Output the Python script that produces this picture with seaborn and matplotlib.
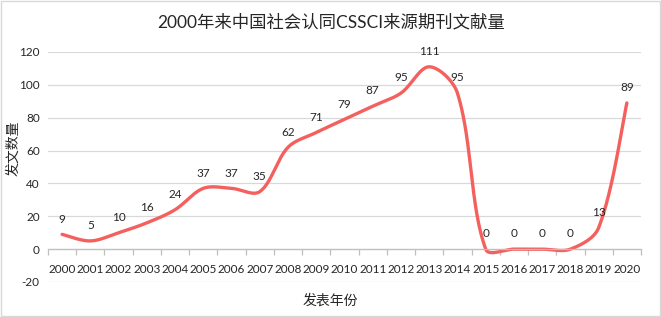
import numpy as np
import pandas as pd
import matplotlib.pyplot as plt
import seaborn as sns
from matplotlib.patches import Rectangle

# 数据
years = ['2000', '2001', '2002', '2003', '2004', '2005', '2006', '2007', '2008', '2009', '2010',
         '2011', '2012', '2013', '2014', '2015', '2016', '2017', '2018', '2019', '2020']
counts = [9, 5, 10, 16, 24, 37, 37, 35, 62, 71, 79, 87, 95, 111, 95, 0, 0, 0, 0, 13, 89]

title = '2000年来中国社会认同CSSCI来源期刊文献量'
xlabel = '发表年份'
ylabel = '发文数量'

sns.set_theme(style='white')
plt.rcParams['font.family'] = ['Lato', 'Noto Sans CJK SC', 'DejaVu Sans']
plt.rcParams['axes.unicode_minus'] = False

line_color = '#F4605E'
grid_color = '#D9D9D9'
text_color = '#262626'

# 像素比例（用于平滑时按屏幕距离缩放控制点）
px_x, px_y = 28.25, 1.64


# Excel 风格的平滑线（三次贝塞尔，按相邻段长度缩放控制点）
def smooth_curve(y, n=40, tension=1 / 6):
    y = np.asarray(y, dtype=float)
    x = np.arange(len(y), dtype=float)
    m = len(y)
    pts = np.column_stack([x, y])
    scale = np.array([px_x, px_y])

    def dist(a, b):
        return np.hypot(*((a - b) * scale))

    out_c, in_c = [], []
    for i in range(m):
        p0 = pts[max(i - 1, 0)]
        p1 = pts[i]
        p2 = pts[min(i + 1, m - 1)]
        d01, d12 = dist(p0, p1), dist(p1, p2)
        tot = d01 + d12
        v = (p2 - p0) * tension
        if 0 < i < m - 1 and tot > 0:
            out_c.append(p1 + v * 2 * d12 / tot)
            in_c.append(p1 - v * 2 * d01 / tot)
        else:
            out_c.append(p1 + v)
            in_c.append(p1 - v)

    xs, ys = [], []
    for i in range(m - 1):
        a, c1, c2, b = pts[i], out_c[i], in_c[i + 1], pts[i + 1]
        t = np.linspace(0, 1, n, endpoint=(i == m - 2))[:, None]
        bz = (1 - t) ** 3 * a + 3 * (1 - t) ** 2 * t * c1 + 3 * (1 - t) * t ** 2 * c2 + t ** 3 * b
        xs.append(bz[:, 0])
        ys.append(bz[:, 1])
    return np.concatenate(xs), np.concatenate(ys)


sx, sy = smooth_curve(counts)
df_smooth = pd.DataFrame({'x': sx, 'y': sy})

fig = plt.figure(figsize=(6.61, 3.17), dpi=100)
ax = fig.add_axes([48 / 661, 1 - 282 / 317, 593 / 661, 230 / 317])

sns.lineplot(data=df_smooth, x='x', y='y', ax=ax, color=line_color, linewidth=2.4, sort=False)

# 数据标签
for i, v in enumerate(counts):
    ax.annotate(str(v), (i, v), xytext=(0, 11), textcoords='offset points',
                ha='center', va='center', fontsize=8.5, color=text_color)

ax.set_xlim(-0.5, len(years) - 0.5)
ax.set_ylim(-20, 120)
ax.set_yticks(range(-20, 121, 20))
ax.yaxis.grid(True, color=grid_color, linewidth=0.9)
ax.set_axisbelow(True)
for s in ['top', 'right', 'left']:
    ax.spines[s].set_visible(False)
ax.spines['bottom'].set_position(('data', 0))
ax.spines['bottom'].set_color('#BFBFBF')
ax.spines['bottom'].set_linewidth(0.9)

ax.set_xticks(range(len(years)))
ax.set_xticklabels(years)
ax.set_xticks(np.arange(-0.5, len(years), 1), minor=True)
ax.tick_params(axis='x', which='major', length=0, pad=11, labelsize=8.5, colors=text_color)
ax.tick_params(axis='x', which='minor', length=4, width=0.9, color='#BFBFBF', bottom=True)
ax.tick_params(axis='y', length=0, pad=6, labelsize=8.5, colors=text_color)
ax.set_xlabel('')
ax.set_ylabel('')

fig.text(331 / 661, 1 - 22 / 317, title, ha='center', va='center', fontsize=12.5, color=text_color)
fig.text(330 / 661, 1 - 300 / 317, xlabel, ha='center', va='center', fontsize=10, color=text_color)
fig.text(13 / 661, 1 - 148 / 317, ylabel, ha='center', va='center', rotation=90, fontsize=10, color=text_color)

# 图表外框
fig.patches.append(Rectangle((0.002, 0.003), 0.996, 0.994, transform=fig.transFigure,
                             fill=False, edgecolor='#D9D9D9', linewidth=1))

fig.savefig('out.png', dpi=100)
